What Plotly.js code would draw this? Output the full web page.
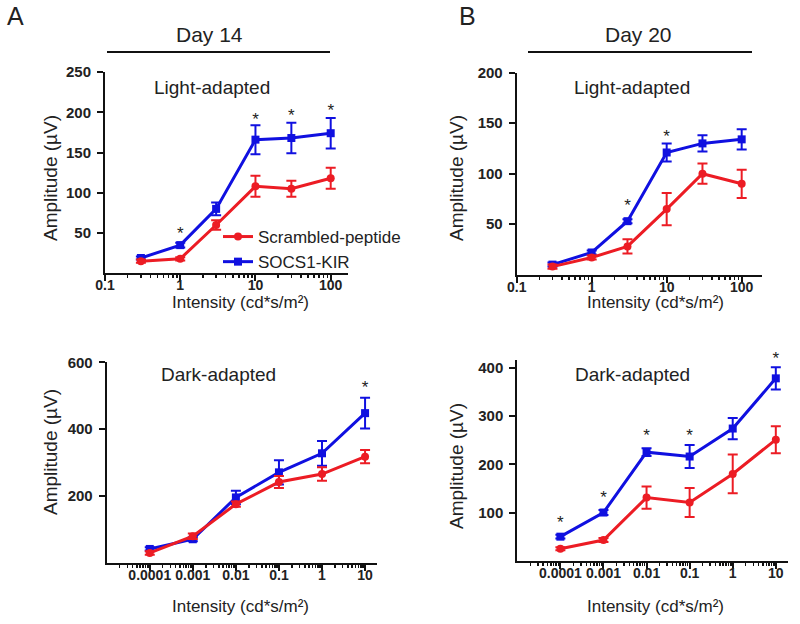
<!DOCTYPE html>
<html>
<head>
<meta charset="utf-8">
<script src="https://cdn.plot.ly/plotly-3.0.1.min.js"></script>
<style>html,body{margin:0;padding:0;background:#fff;}#chart{width:800px;height:624px;}</style>
</head>
<body>
<div id="chart"></div>
<script>
// ---------- DATA ----------
const seriesNames = ['Scrambled-peptide', 'SOCS1-KIR'];

// Panel A, Day 14, Light-adapted
const intensityLight = [0.3, 1, 3, 10, 30, 100];
const scrD14Light = [15, 18, 60, 108, 105, 118];
const scrD14LightErr = [2, 2, 6, 13, 10, 13];
const socD14Light = [19, 35, 80, 166, 168, 174];
const socD14LightErr = [2, 3, 8, 18, 19, 19];
const starD14LightX = [1, 10, 30, 100];
const starD14LightY = [48, 189, 195, 201];

// Panel B, Day 20, Light-adapted
const scrD20Light = [8, 17, 28, 65, 100, 90];
const scrD20LightErr = [2, 2, 7, 16, 10, 14];
const socD20Light = [10, 22, 53, 121, 130, 134];
const socD20LightErr = [2, 2, 2, 9, 8, 10];
const starD20LightX = [3, 10];
const starD20LightY = [67, 136];

// Panel A, Day 14, Dark-adapted
const intensityDark = [0.0001, 0.001, 0.01, 0.1, 1, 10];
const scrD14Dark = [30, 80, 176, 242, 266, 318];
const scrD14DarkErr = [5, 8, 8, 18, 20, 20];
const socD14Dark = [42, 71, 196, 271, 328, 448];
const socD14DarkErr = [5, 6, 20, 36, 37, 46];
const starD14DarkX = [10];
const starD14DarkY = [520];

// Panel B, Day 20, Dark-adapted
const scrD20Dark = [25, 43, 131, 121, 180, 251];
const scrD20DarkErr = [3, 4, 23, 30, 40, 28];
const socD20Dark = [50, 100, 225, 216, 274, 378];
const socD20DarkErr = [4, 5, 8, 24, 22, 23];
const starD20DarkX = [0.0001, 0.001, 0.01, 0.1, 10];
const starD20DarkY = [77, 129, 256, 258, 416];

// tick labels
const lightTickVals = [0.1, 1, 10, 100];
const lightTickText = ['0.1', '1', '10', '100'];
const darkTickVals = [0.0001, 0.001, 0.01, 0.1, 1, 10];
const darkTickText = ['0.0001', '0.001', '0.01', '0.1', '1', '10'];
const lightDecades = [0.1, 1, 10, 100];
const darkDecades = [0.00001, 0.0001, 0.001, 0.01, 0.1, 1, 10];
const minorMultiples = [2, 3, 4, 5, 6, 7, 8, 9];

// ---------- STYLE ----------
const RED = '#ec1c24';
const BLUE = '#1010e0';
const FONT = 'Liberation Sans, Arial, sans-serif';

function minorVals(decades) {
  const out = [];
  decades.forEach(d => minorMultiples.forEach(m => out.push(d * m)));
  return out;
}

function pair(x, scr, scrErr, soc, socErr, xa, ya, legend) {
  const common = {type: 'scatter', mode: 'lines+markers', x: x, xaxis: xa, yaxis: ya,
                  cliponaxis: false, hoverinfo: 'skip'};
  return [
    Object.assign({}, common, {
      name: seriesNames[1], y: soc, showlegend: legend, legendrank: 2,
      line: {color: BLUE, width: 3}, marker: {symbol: 'square', size: 8, color: BLUE},
      error_y: {type: 'data', array: socErr, color: BLUE, thickness: 2, width: 5}
    }),
    Object.assign({}, common, {
      name: seriesNames[0], y: scr, showlegend: legend, legendrank: 1,
      line: {color: RED, width: 3}, marker: {symbol: 'circle', size: 8, color: RED},
      error_y: {type: 'data', array: scrErr, color: RED, thickness: 2, width: 5}
    })
  ];
}
function stars(x, y, xa, ya) {
  return {type: 'scatter', mode: 'text', x: x, y: y, text: x.map(() => '*'),
          textposition: 'middle center', textfont: {family: FONT, size: 17, color: '#222'},
          xaxis: xa, yaxis: ya, showlegend: false, hoverinfo: 'skip', cliponaxis: false};
}

const data = [].concat(
  pair(intensityLight, scrD14Light, scrD14LightErr, socD14Light, socD14LightErr, 'x', 'y', true),
  pair(intensityLight, scrD20Light, scrD20LightErr, socD20Light, socD20LightErr, 'x2', 'y2', false),
  pair(intensityDark, scrD14Dark, scrD14DarkErr, socD14Dark, socD14DarkErr, 'x3', 'y3', false),
  pair(intensityDark, scrD20Dark, scrD20DarkErr, socD20Dark, socD20DarkErr, 'x4', 'y4', false),
  [stars(starD14LightX, starD14LightY, 'x', 'y'),
   stars(starD20LightX, starD20LightY, 'x2', 'y2'),
   stars(starD14DarkX, starD14DarkY, 'x3', 'y3'),
   stars(starD20DarkX, starD20DarkY, 'x4', 'y4')]
);

const W = 800, H = 624;
function px(v) { return v / W; }
function py(v) { return 1 - v / H; }

function xAxis(domain, range, tv, tt, decades, anchor, fs) {
  return {type: 'log', domain: domain, range: range, anchor: anchor,
          tickvals: tv, ticktext: tt, tickangle: 0,
          ticks: 'outside', ticklen: 6, tickwidth: 2, tickcolor: '#111',
          ticklabelstandoff: -8,
          showline: true, linewidth: 2, linecolor: '#111', showgrid: false, zeroline: false,
          tickfont: {family: FONT, size: fs, color: '#222', weight: 'bold'},
          minor: {tickvals: minorVals(decades), ticks: 'outside', ticklen: 3, tickwidth: 1.5,
                  tickcolor: '#111', showgrid: false}};
}
function yAxis(domain, range, tv, anchor) {
  return {domain: domain, range: range, anchor: anchor, tickvals: tv,
          ticks: 'outside', ticklen: 6, tickwidth: 2, tickcolor: '#111',
          ticklabelstandoff: 3,
          showline: true, linewidth: 2, linecolor: '#111', showgrid: false, zeroline: false,
          tickfont: {family: FONT, size: 15, color: '#222', weight: 'bold'}};
}

function ann(text, x, y, size, extra) {
  return Object.assign({text: text, x: px(x), y: py(y), xref: 'paper', yref: 'paper',
    showarrow: false, xanchor: 'center', yanchor: 'middle',
    font: {family: FONT, size: size, color: '#222'}}, extra || {});
}
const xTitle = 'Intensity (cd*s/m²)';
const yTitle = 'Amplitude (µV)';

const layout = {
  width: W, height: H,
  margin: {l: 0, r: 0, t: 0, b: 0},
  paper_bgcolor: '#fff', plot_bgcolor: 'rgba(0,0,0,0)',
  showlegend: true,
  legend: {x: px(218), y: py(219), xanchor: 'left', yanchor: 'top', bgcolor: 'rgba(0,0,0,0)',
           font: {family: FONT, size: 17, color: '#222'}, tracegroupgap: 0},
  xaxis:  xAxis([px(105), px(348)], [-1, 2.23], lightTickVals, lightTickText, lightDecades, 'y', 14),
  yaxis:  yAxis([py(273.3), py(72)], [0, 250], [50, 100, 150, 200, 250], 'x'),
  xaxis2: xAxis([px(516.7), px(761.7)], [-1, 2.267], lightTickVals, lightTickText, lightDecades, 'y2', 14),
  yaxis2: yAxis([py(274.7), py(72.7)], [0, 200], [50, 100, 150, 200], 'x2'),
  xaxis3: xAxis([px(106.7), px(376.7)], [-5, 1.27], darkTickVals, darkTickText, darkDecades, 'y3', 14),
  yaxis3: yAxis([py(563), py(362.3)], [0, 600], [200, 400, 600], 'x3'),
  xaxis4: xAxis([px(517.3), px(788.3)], [-5, 1.29], darkTickVals, darkTickText, darkDecades, 'y4', 14),
  yaxis4: yAxis([py(560.8), py(360)], [0, 416], [100, 200, 300, 400], 'x4'),
  shapes: [
    {type: 'line', xref: 'paper', yref: 'paper', x0: px(107), x1: px(330), y0: py(52), y1: py(52), line: {color: '#111', width: 2}},
    {type: 'line', xref: 'paper', yref: 'paper', x0: px(528), x1: px(752), y0: py(52), y1: py(52), line: {color: '#111', width: 2}}
  ],
  annotations: [
    ann('A', 15, 16, 25),
    ann('B', 467, 16, 25),
    ann('Day 14', 209, 34, 21),
    ann('Day 20', 638, 34, 21),
    ann('Light-adapted', 212, 88, 19),
    ann('Light-adapted', 632, 88, 19),
    ann('Dark-adapted', 218, 374, 19),
    ann('Dark-adapted', 632, 374, 19),
    ann(yTitle, 50, 178, 19, {textangle: -90}),
    ann(yTitle, 456, 178, 19, {textangle: -90}),
    ann(yTitle, 50, 452, 19, {textangle: -90}),
    ann(yTitle, 456, 466, 19, {textangle: -90}),
    ann(xTitle, 240, 302, 17),
    ann(xTitle, 655, 302, 17),
    ann(xTitle, 240, 606, 17),
    ann(xTitle, 655, 606, 17)
  ]
};

Plotly.newPlot('chart', data, layout, {staticPlot: true, displayModeBar: false});
</script>
</body>
</html>
